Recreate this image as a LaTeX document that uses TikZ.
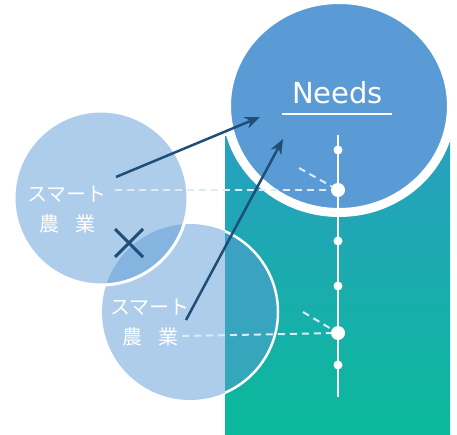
\documentclass[tikz,border=0pt]{standalone}
\usepackage{fontspec}
\setmainfont{DejaVu Sans}
\newfontfamily\jpfont{Noto Sans CJK JP}
\usetikzlibrary{arrows.meta,shapes.misc,shapes.geometric}

\definecolor{needsblue}{HTML}{5B9BD5}
\definecolor{navy}{HTML}{1F4E79}
\definecolor{tealtop}{HTML}{29A0C0}
\definecolor{tealbot}{HTML}{0AB99A}
\definecolor{dashwhite}{HTML}{DDEBF7}

\begin{document}
\begin{tikzpicture}[x=1pt,y=-1pt,
    bubble/.style={circle,fill=needsblue,fill opacity=0.5,inner sep=0pt,minimum size=#1},
    jp/.style={text=white,font=\jpfont\fontsize{20}{20}\selectfont},
    dot/.style={circle,fill=white,inner sep=0pt,minimum size=#1},
    guide/.style={dashwhite,line width=2pt,dash pattern=on 7pt off 5pt},
    pointer/.style={navy,line width=2.5pt,-{Stealth[length=15pt,width=12pt]}}]
    \useasboundingbox (0,0) rectangle (457,435);

    % background panel and the needs circle
    \shade[top color=tealtop,bottom color=tealbot] (225,137) rectangle (450,435);
    \node[ellipse,fill=needsblue,draw=white,line width=9pt,inner sep=0pt,
          minimum width=225pt,minimum height=213pt] (needs) at (339,106) {};
    \node[anchor=base,text=white,font=\fontsize{29}{29}\selectfont] (needstxt) at (337.5,104) {Needs};
    \coordinate (ulA) at (282,114);
    \coordinate (ulB) at (392,114);
    \draw[white,line width=1.2pt] (ulA) -- (ulB);

    % the two bubbles
    \node[bubble=176pt] (bubB) at (190,312) {};
    \begin{scope}
        \clip (225,137) rectangle (450,435);
        \draw[white,line width=2.5pt] (bubB) circle (88);
    \end{scope}
    \node[bubble=174pt,draw=white,line width=3pt] (bubA) at (101,198) {};

    % scale line
    \coordinate (vtop) at (338,135);
    \coordinate (vbot) at (338,397);
    \draw[white,line width=1.2pt] (vtop) -- (vbot);
    \foreach \y in {150,241,286,365}
    {
        \node[dot=9pt] (d\y) at (338,\y) {};
    }
    \node[dot=14pt] (bigA) at (338,190) {};
    \node[dot=14pt] (bigB) at (338,333) {};

    \coordinate (gA) at (115,190);
    \coordinate (gB) at (182,336);
    \coordinate (diagA) at (299,168);
    \coordinate (diagB) at (303,312);
    \draw[guide] (gA) -- (bigA);
    \draw[guide] (gB) -- (bigB);
    \draw[guide] (diagA) -- (bigA);
    \draw[guide] (diagB) -- (bigB);

    % labels
    \node[jp] (smartA) at (67,194) {スマート};
    \node[jp] (farmA) at (67.5,224) {農\hspace{0.8em}業};
    \node[jp] (smartB) at (150,307) {スマート};
    \node[jp] (farmB) at (150,337) {農\hspace{0.8em}業};
    \node[cross out,draw=navy,line width=3pt,minimum size=25pt,inner sep=0pt] (nope) at (129,243) {};

    % arrows
    \coordinate (aA) at (116,177);
    \coordinate (aB) at (186,320);
    \coordinate (tA) at (260,117);
    \coordinate (tB) at (283,139);
    \draw[pointer] (aA) -- (tA);
    \draw[pointer] (aB) -- (tB);
\end{tikzpicture}
\end{document}
